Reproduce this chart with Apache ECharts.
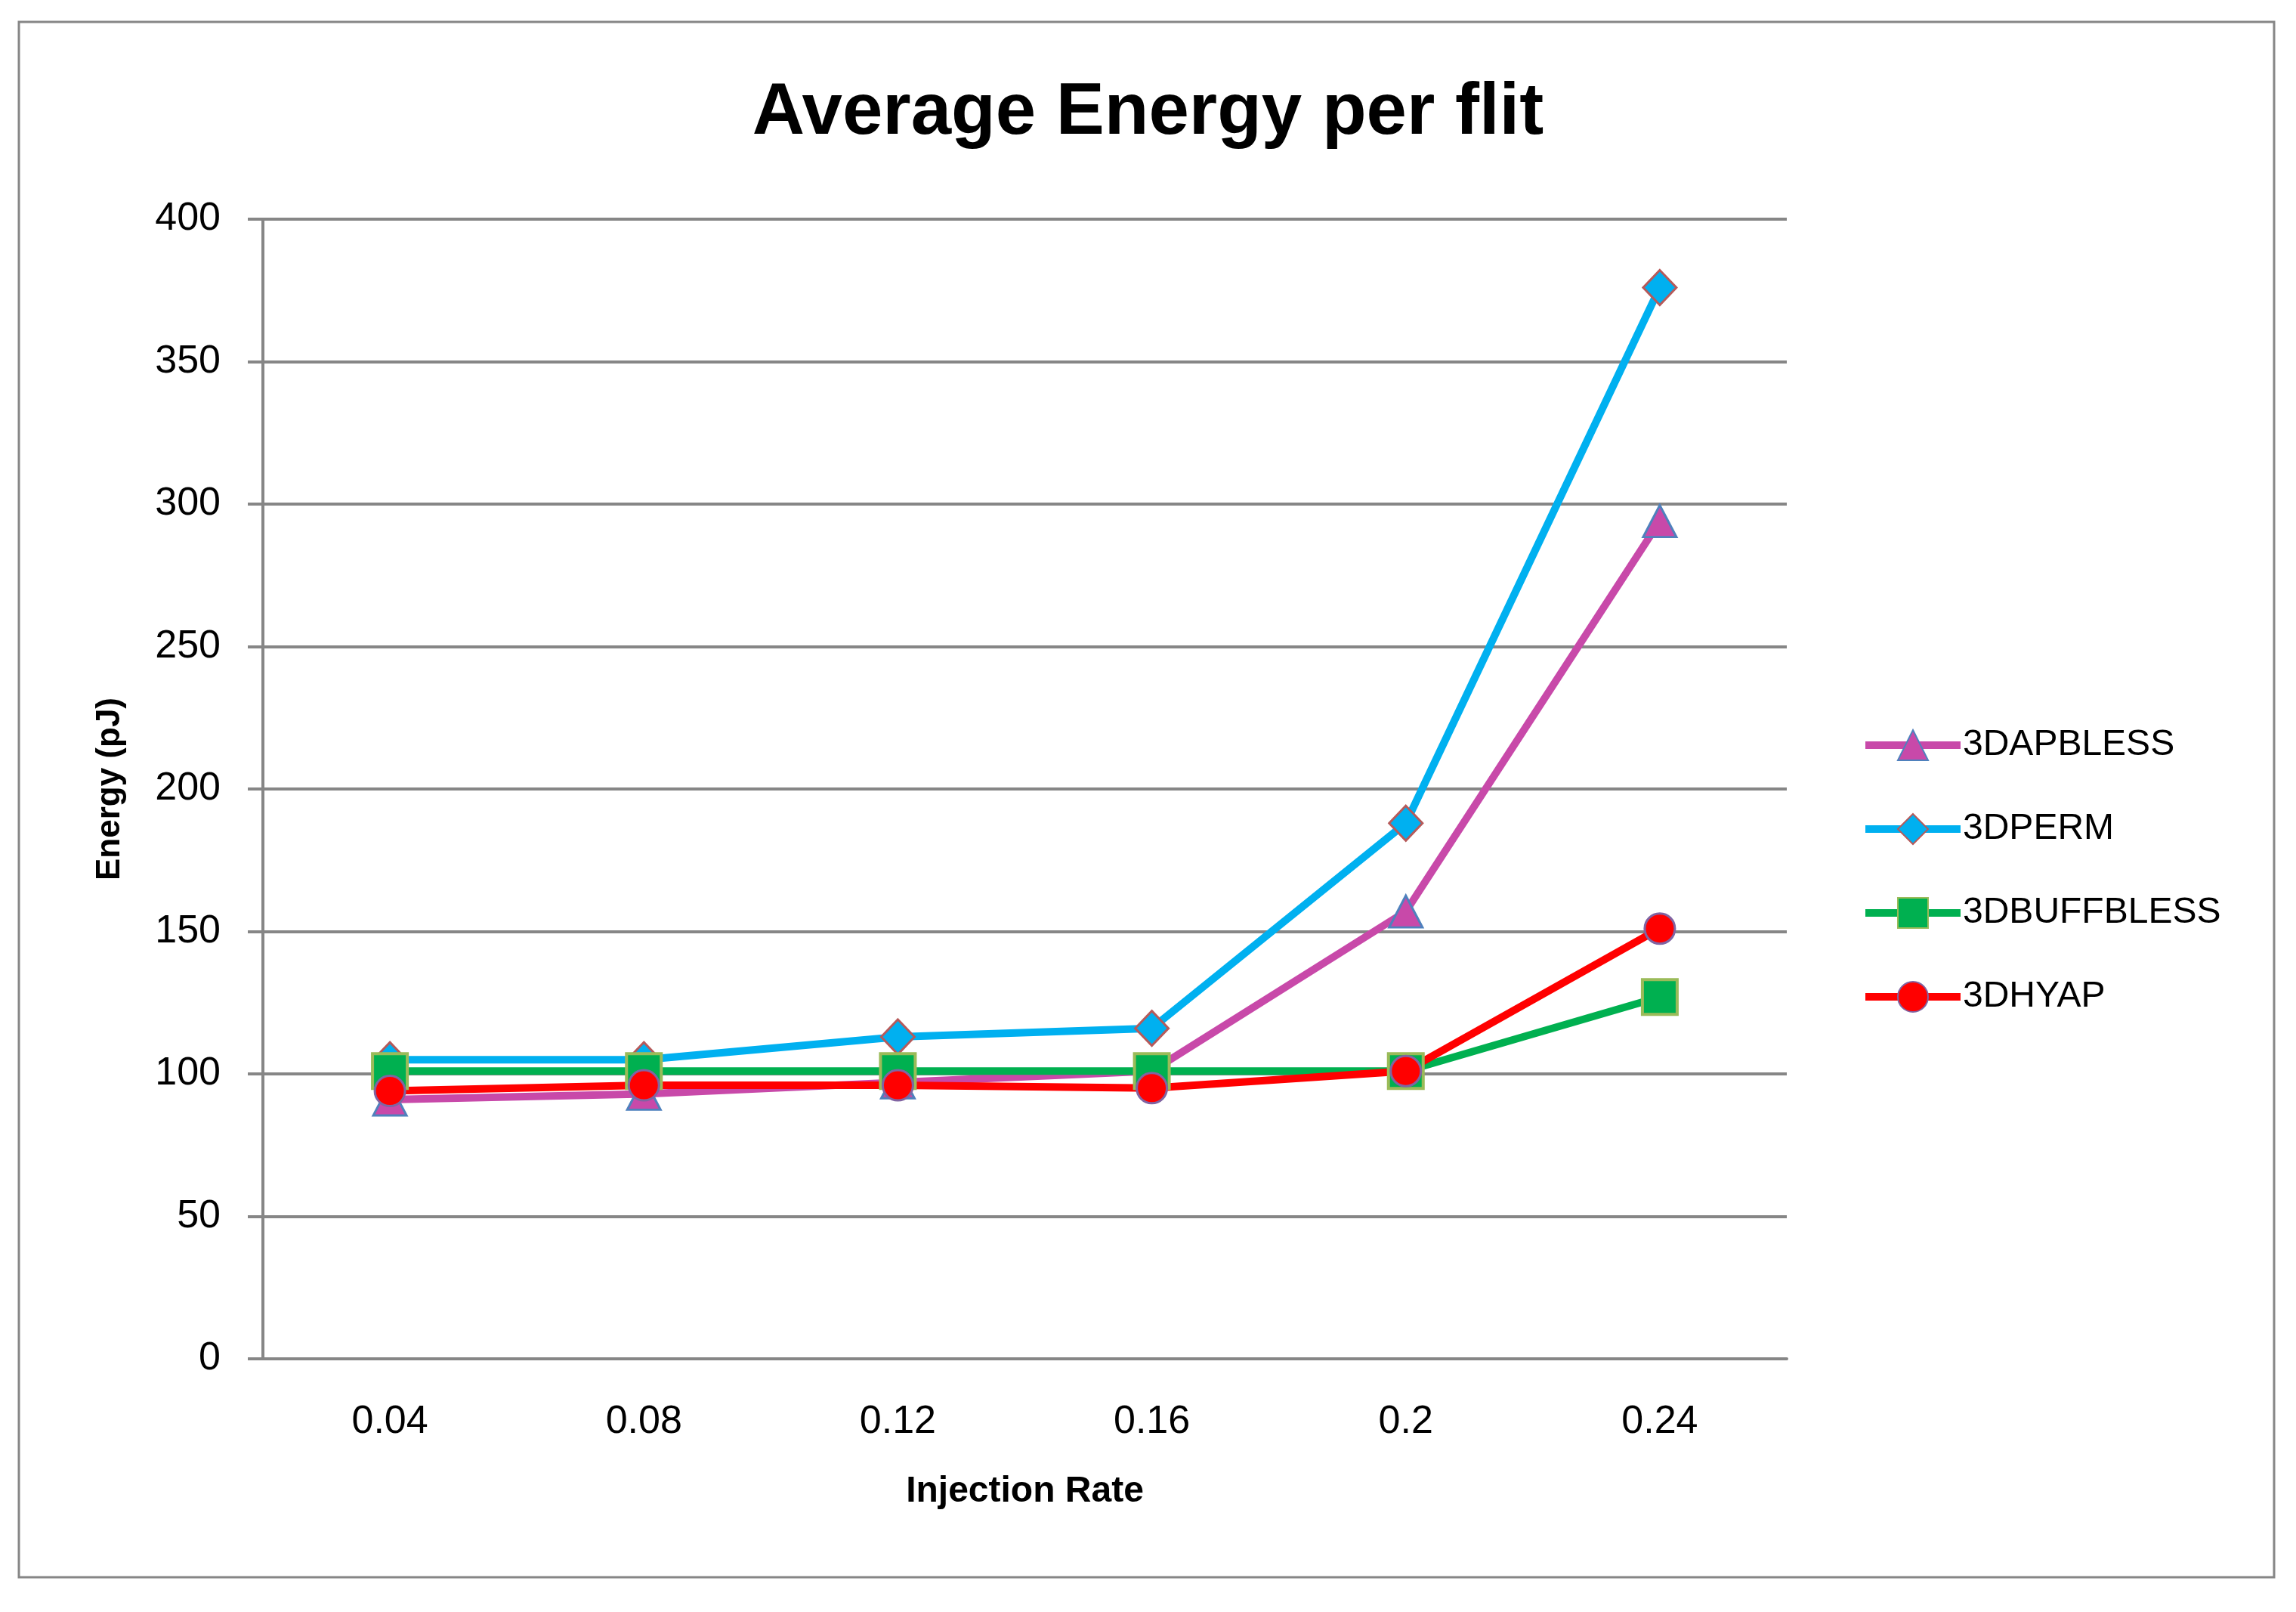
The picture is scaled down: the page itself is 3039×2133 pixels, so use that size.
<!DOCTYPE html>
<html>
<head>
<meta charset="utf-8">
<script src="https://cdn.jsdelivr.net/npm/echarts@6/dist/echarts.min.js"></script>
<style>
html,body{margin:0;padding:0;background:#fff;}
#chart{width:3039px;height:2133px;}
</style>
</head>
<body>
<div id="chart"></div>
<script>
const categories = ['0.04', '0.08', '0.12', '0.16', '0.2', '0.24'];
const apbless   = [91, 93, 97, 101, 157, 294];
const perm      = [105, 105, 113, 116, 188, 376];
const buffbless = [101, 101, 101, 101, 101, 127];
const hyap      = [94, 96, 96, 95, 101, 151];
const yTicks = { min: 0, max: 400, interval: 50 };

const GRAY = '#868686';
const font = '"Liberation Sans", Arial, sans-serif';

function mk(name, data, color, symbol, size, border, bw) {
  return {
    name, type: 'line', data,
    symbol, symbolSize: size,
    lineStyle: { color, width: 10 },
    itemStyle: { color, borderColor: border, borderWidth: bw },
    emphasis: { disabled: true },
    animation: false
  };
}

const chart = echarts.init(document.getElementById('chart'), null, { renderer: 'canvas' });
chart.setOption({
  backgroundColor: '#ffffff',
  animation: false,
  graphic: [{
    type: 'rect', z: -1,
    shape: { x: 25, y: 29, width: 2985, height: 2058 },
    style: { fill: 'none', stroke: GRAY, lineWidth: 3 }
  }],
  title: {
    text: 'Average Energy per flit',
    left: 'center', top: 98,
    textStyle: { fontFamily: font, fontWeight: 'bold', fontSize: 96, color: '#000' }
  },
  grid: { left: 348, right: 674, top: 290, bottom: 335 },
  legend: {
    orient: 'vertical', left: 2459, top: 957,
    itemWidth: 126, itemHeight: 50, itemGap: 63,
    textStyle: { fontFamily: font, fontSize: 48, color: '#000', padding: [0, 0, 0, -2] },
    lineStyle: { width: 10 },
    data: ['3DAPBLESS', '3DPERM', '3DBUFFBLESS', '3DHYAP']
  },
  xAxis: {
    type: 'category', data: categories, boundaryGap: true,
    name: 'Injection Rate', nameLocation: 'middle', nameGap: 152,
    nameTextStyle: { fontFamily: font, fontWeight: 'bold', fontSize: 48, color: '#000' },
    axisLine: { show: true, lineStyle: { color: GRAY, width: 4 } },
    axisTick: { show: false },
    axisLabel: { fontFamily: font, fontSize: 52, color: '#000', margin: 58 },
    splitLine: { show: false }
  },
  yAxis: {
    type: 'value', min: yTicks.min, max: yTicks.max, interval: yTicks.interval,
    name: 'Energy (pJ)', nameLocation: 'middle', nameGap: 180, nameRotate: 90,
    nameTextStyle: { fontFamily: font, fontWeight: 'bold', fontSize: 44, color: '#000' },
    axisLine: { show: true, lineStyle: { color: GRAY, width: 4 } },
    axisTick: { show: true, inside: false, length: 20, lineStyle: { color: GRAY, width: 4 } },
    axisLabel: { fontFamily: font, fontSize: 52, color: '#000', margin: 56 },
    splitLine: { show: true, lineStyle: { color: GRAY, width: 4 } }
  },
  series: [
    mk('3DAPBLESS', apbless, '#C849A9', 'triangle', [44, 42], '#4F81BD', 3),
    mk('3DPERM', perm, '#00B0F0', 'diamond', [44, 46], '#B65A5A', 3),
    mk('3DBUFFBLESS', buffbless, '#00B050', 'rect', [46, 46], '#9BBB59', 4),
    mk('3DHYAP', hyap, '#FF0000', 'circle', 40, '#8064A2', 3)
  ]
});
</script>
</body>
</html>
